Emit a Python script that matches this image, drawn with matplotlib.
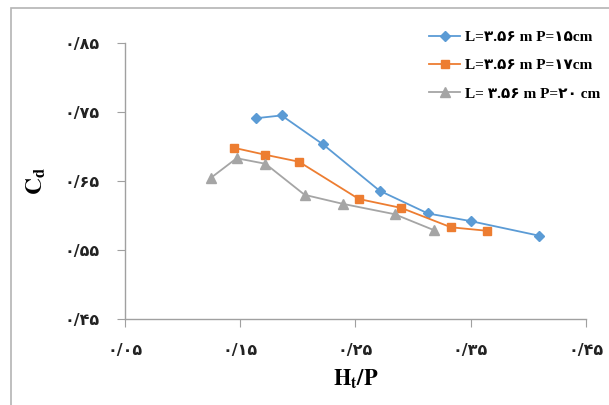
import matplotlib
matplotlib.use('Agg')
import matplotlib.pyplot as plt
from matplotlib.patches import Rectangle

# data
x_p15 = [0.164, 0.186, 0.222, 0.271, 0.313, 0.350, 0.409]
cd_p15 = [0.741, 0.745, 0.703, 0.636, 0.603, 0.592, 0.571]
x_p17 = [0.145, 0.172, 0.201, 0.253, 0.290, 0.333, 0.364]
cd_p17 = [0.698, 0.688, 0.678, 0.624, 0.611, 0.583, 0.578]
x_p20 = [0.125, 0.147, 0.172, 0.206, 0.239, 0.284, 0.318]
cd_p20 = [0.655, 0.683, 0.675, 0.630, 0.617, 0.602, 0.579]

labels = ['L=۳.۵۶ m P=۱۵cm', 'L=۳.۵۶ m P=۱۷cm', 'L= ۳.۵۶ m P=۲۰ cm']
xticks = [0.05, 0.15, 0.25, 0.35, 0.45]
xtick_labels = ['۰/۰۵', '۰/۱۵', '۰/۲۵', '۰/۳۵', '۰/۴۵']
yticks = [0.45, 0.55, 0.65, 0.75, 0.85]
ytick_labels = ['۰/۴۵', '۰/۵۵', '۰/۶۵', '۰/۷۵', '۰/۸۵']

plt.rcParams['mathtext.fontset'] = 'stix'
serif = ['Liberation Serif', 'DejaVu Sans']

fig = plt.figure(figsize=(6.09, 4.05), dpi=100)
ax = fig.add_axes([0.205, 0.212, 0.757, 0.682])

# chart area border (only top and left visible)
fig.patches.append(Rectangle((11 / 609, -0.1), 1.2, 1.1 - 8 / 405, transform=fig.transFigure,
                             fill=False, edgecolor='#b4b4b4', linewidth=1.2))

ax.plot(x_p15, cd_p15, color='#5B9BD5', marker='D', markersize=5, linewidth=1.3, label=labels[0])
ax.plot(x_p17, cd_p17, color='#ED7D31', marker='s', markersize=5.5, linewidth=1.3, label=labels[1])
ax.plot(x_p20, cd_p20, color='#A5A5A5', marker='^', markersize=6.5, linewidth=1.3, label=labels[2])

ax.set_xlim(0.05, 0.45)
ax.set_ylim(0.45, 0.85)
ax.set_xticks(xticks)
ax.set_xticklabels(xtick_labels, fontsize=11.5, fontweight='bold', color='#222222')
ax.set_yticks(yticks)
ax.set_yticklabels(ytick_labels, fontsize=11.5, fontweight='bold', color='#222222')

for s in ['top', 'right']:
    ax.spines[s].set_visible(False)
for s in ['left', 'bottom']:
    ax.spines[s].set_color('#a0a0a0')
    ax.spines[s].set_linewidth(1.0)
ax.tick_params(axis='both', direction='out', color='#a0a0a0', length=6)
ax.tick_params(axis='y', pad=12)
ax.tick_params(axis='x', pad=11)

ax.set_ylabel(r'$\mathbf{C_d}$', fontsize=17, labelpad=12)
ax.set_xlabel(r'$\mathbf{H_t/P}$', fontsize=16, labelpad=7)

leg = ax.legend(loc='upper right', bbox_to_anchor=(1.06, 1.095), frameon=False,
                prop={'family': serif, 'weight': 'bold', 'size': 11},
                handlelength=2.0, labelspacing=0.95, handletextpad=0.3)

fig.savefig('out.png', dpi=100)
